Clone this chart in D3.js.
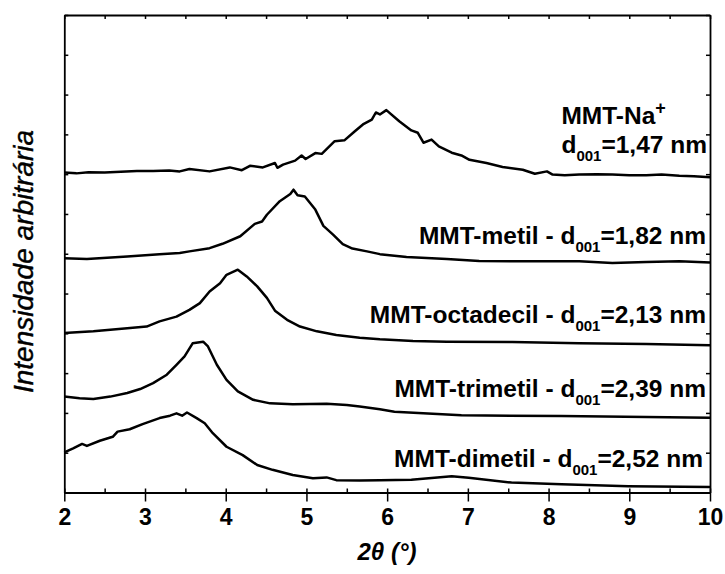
<!DOCTYPE html>
<html><head><meta charset="utf-8">
<script src="https://cdn.jsdelivr.net/npm/d3@7"></script>
<style>body{margin:0;background:#fff}</style>
</head><body>
<svg id="c" width="725" height="574"></svg>
<script>
// ---- data ----
const xTickValues = [2, 3, 4, 5, 6, 7, 8, 9, 10];
const xTickLabels = ["2", "3", "4", "5", "6", "7", "8", "9", "10"];
const sampleNames = ["MMT-Na", "MMT-metil", "MMT-octadecil", "MMT-trimetil", "MMT-dimetil"];
const d001Values = ["1,47", "1,82", "2,13", "2,39", "2,52"];

// [2θ (°), intensity (arbitrary, stacked)]
const mmtNa = [[2.00,8.04],[2.15,8.02],[2.30,8.05],[2.50,8.04],[2.70,8.06],[2.90,8.08],[3.10,8.08],[3.30,8.09],[3.43,8.07],[3.55,8.13],[3.80,8.07],[4.05,8.17],[4.20,8.10],[4.30,8.21],[4.46,8.17],[4.61,8.28],[4.64,8.16],[4.71,8.24],[4.86,8.34],[4.94,8.47],[4.99,8.38],[5.11,8.53],[5.19,8.51],[5.35,8.83],[5.47,8.85],[5.60,9.08],[5.70,9.25],[5.81,9.37],[5.86,9.55],[5.91,9.50],[5.99,9.61],[6.15,9.33],[6.30,9.10],[6.38,9.04],[6.45,8.79],[6.55,8.87],[6.64,8.70],[6.80,8.54],[6.92,8.47],[7.02,8.36],[7.23,8.28],[7.43,8.18],[7.68,8.11],[7.83,8.01],[7.98,8.07],[8.05,7.99],[8.20,7.97],[8.38,7.99],[8.60,8.00],[8.79,7.99],[9.00,7.97],[9.21,7.97],[9.40,7.99],[9.62,7.96],[9.80,7.95],[10.00,7.92]];
const mmtMetil = [[2.00,5.89],[2.28,5.87],[2.78,5.93],[3.18,5.99],[3.43,6.02],[3.55,6.06],[3.80,6.14],[3.96,6.25],[4.18,6.44],[4.36,6.75],[4.45,6.81],[4.51,6.98],[4.67,7.32],[4.80,7.50],[4.84,7.61],[4.89,7.47],[4.98,7.44],[5.11,7.11],[5.21,6.70],[5.33,6.48],[5.45,6.24],[5.57,6.13],[5.75,6.06],[5.91,5.99],[6.24,5.92],[6.74,5.87],[7.14,5.82],[7.55,5.81],[7.98,5.81],[8.38,5.81],[8.79,5.77],[9.21,5.79],[9.62,5.81],[10.00,5.78]];
const mmtOctadecil = [[2.00,4.01],[2.36,4.05],[2.78,4.13],[3.02,4.17],[3.18,4.30],[3.39,4.42],[3.55,4.59],[3.68,4.76],[3.80,5.05],[3.93,5.26],[4.01,5.47],[4.15,5.60],[4.26,5.43],[4.39,5.18],[4.51,4.89],[4.61,4.57],[4.76,4.34],[4.92,4.17],[5.13,4.05],[5.37,3.96],[5.66,3.89],[5.91,3.85],[6.32,3.81],[6.74,3.79],[7.55,3.78],[8.38,3.75],[9.21,3.73],[10.00,3.70]];
const mmtTrimetil = [[2.00,2.41],[2.19,2.37],[2.36,2.35],[2.57,2.41],[2.78,2.50],[2.94,2.60],[3.10,2.75],[3.27,2.96],[3.39,3.21],[3.49,3.42],[3.59,3.75],[3.72,3.79],[3.78,3.67],[3.89,3.21],[4.01,2.83],[4.15,2.54],[4.34,2.33],[4.55,2.24],[4.83,2.22],[5.25,2.23],[5.50,2.20],[5.66,2.16],[5.91,2.09],[6.09,2.03],[6.92,1.94],[8.16,1.92],[10.00,1.88]];
const mmtDimetil = [[2.00,1.01],[2.11,1.11],[2.22,1.22],[2.28,1.17],[2.44,1.30],[2.60,1.40],[2.66,1.53],[2.81,1.59],[2.97,1.72],[3.18,1.87],[3.31,1.93],[3.39,1.99],[3.46,1.93],[3.52,2.01],[3.64,1.87],[3.74,1.74],[3.84,1.49],[4.01,1.15],[4.21,0.94],[4.39,0.69],[4.58,0.57],[4.83,0.44],[5.08,0.36],[5.25,0.38],[5.37,0.31],[5.66,0.30],[5.91,0.31],[6.30,0.32],[6.80,0.41],[7.01,0.37],[7.54,0.25],[8.16,0.21],[8.99,0.16],[10.00,0.14]];
const allSeries = [mmtNa, mmtMetil, mmtOctadecil, mmtTrimetil, mmtDimetil];

// ---- layout ----
const svg = d3.select("#c");
svg.append("rect").attr("width",725).attr("height",574).attr("fill","#fff");
const L = 64.3, R = 710, T = 15, B = 492.5;
const x = d3.scaleLinear().domain([2, 10]).range([L, R]);
const y = d3.scaleLinear().domain([0, 12]).range([B, T]);
const FONT = "'Liberation Sans', Arial, Helvetica, sans-serif";

// curves
const line = d3.line().x(d => x(d[0])).y(d => y(d[1]));
svg.append("g").selectAll("path").data(allSeries).join("path")
  .attr("d", line).attr("fill","none").attr("stroke","#000")
  .attr("stroke-width",2.5).attr("stroke-linejoin","round");

// axes
const minorX = d3.range(2, 10.01, 0.5);
const yTicks = d3.range(0, 12.01, 1);
const gBottom = svg.append("g").attr("transform",`translate(0,${B})`)
  .call(d3.axisBottom(x).tickValues(xTickValues).tickFormat((d,i)=>xTickLabels[i]).tickSizeInner(9).tickSizeOuter(0).tickPadding(7));
gBottom.selectAll("text").attr("font-family",FONT).attr("font-weight","bold").attr("font-size",23).attr("fill","#000");
const gBottomMinor = svg.append("g").attr("transform",`translate(0,${B})`)
  .call(d3.axisBottom(x).tickValues(minorX).tickFormat("").tickSizeInner(-4).tickSizeOuter(0));
const gTop = svg.append("g").attr("transform",`translate(0,${T})`)
  .call(d3.axisTop(x).tickValues(minorX).tickFormat("").tickSizeInner(-4).tickSizeOuter(0));
const gLeft = svg.append("g").attr("transform",`translate(${L},0)`)
  .call(d3.axisLeft(y).tickValues(yTicks).tickFormat("").tickSizeInner(-4).tickSizeOuter(0));
const gRight = svg.append("g").attr("transform",`translate(${R},0)`)
  .call(d3.axisRight(y).tickValues(yTicks).tickFormat("").tickSizeInner(-4).tickSizeOuter(0));
[gBottom,gBottomMinor,gTop,gLeft,gRight].forEach(g=>{
  g.select(".domain").attr("stroke","#000").attr("stroke-width",1.8);
  g.selectAll(".tick line").attr("stroke","#000").attr("stroke-width",1.5);
});

// axis titles
svg.append("text").attr("x",387).attr("y",560).attr("text-anchor","middle")
  .attr("font-family",FONT).attr("font-weight","bold").attr("font-style","italic").attr("font-size",24)
  .text("2θ (°)");
svg.append("text").attr("transform","translate(33,261.5) rotate(-90)").attr("text-anchor","middle")
  .attr("font-family",FONT).attr("font-style","italic").attr("font-size",28).attr("fill","#000")
  .attr("stroke","#000").attr("stroke-width",0.4)
  .text("Intensidade arbitrária");

// annotations
const FS = 24.5, SUB = 15;
function dLabel(sel, prefix, val){
  sel.append("tspan").text(prefix + "d");
  sel.append("tspan").attr("font-size",SUB).attr("dy",7.5).text("001");
  sel.append("tspan").attr("dy",-7.5).text("=" + val + " nm");
}
const labelBase = [null, 244, 323, 397, 467];
const labelRight = [707, 706, 706, 706, 703];
for (let i = 1; i < 5; i++){
  const t = svg.append("text").attr("x",labelRight[i]).attr("y",labelBase[i]).attr("text-anchor","end")
    .attr("font-family",FONT).attr("font-weight","bold").attr("font-size",FS);
  dLabel(t, sampleNames[i] + " - ", d001Values[i]);
}
const naD = svg.append("text").attr("x",labelRight[0]).attr("y",153).attr("text-anchor","end")
  .attr("font-family",FONT).attr("font-weight","bold").attr("font-size",FS);
dLabel(naD, "", d001Values[0]);
const naLeft = labelRight[0] - naD.node().getComputedTextLength();
const naT = svg.append("text").attr("x",naLeft).attr("y",124)
  .attr("font-family",FONT).attr("font-weight","bold").attr("font-size",FS);
naT.append("tspan").text(sampleNames[0]);
naT.append("tspan").attr("font-size",18).attr("dy",-10).text("+");
</script>
</body></html>
